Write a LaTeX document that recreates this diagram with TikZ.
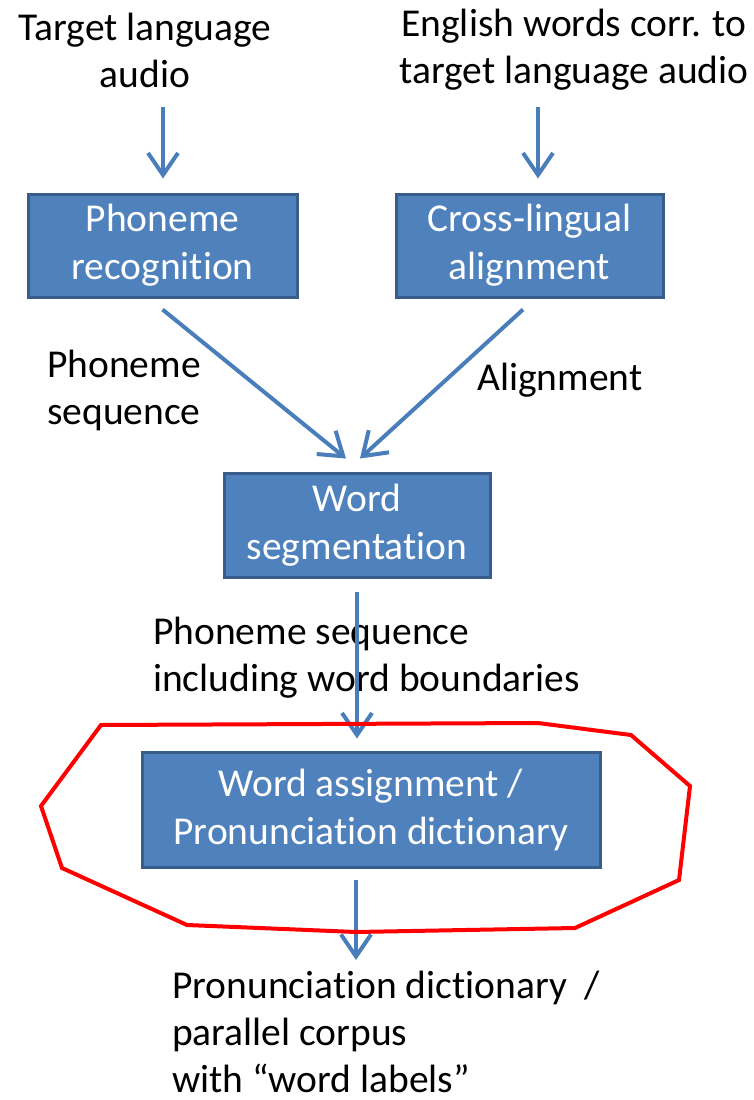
\documentclass[tikz,border=0pt]{standalone}
\usepackage{fontspec}
\setmainfont{Carlito}[Ligatures=NoCommon]
\usetikzlibrary{arrows.meta}
\definecolor{boxfill}{HTML}{4F81BD}
\definecolor{boxline}{HTML}{385D8A}
\definecolor{arrowblue}{HTML}{4A7EBB}
\tikzset{
  procbox/.style={draw=boxline, line width=3pt, fill=boxfill, text=white, align=center, inner sep=0pt, font=\fontsize{39.5}{48}\selectfont},
  plain/.style={inner sep=0pt, font=\fontsize{39.5}{47}\selectfont},
  arr/.style={draw=arrowblue, line width=4pt, -{Straight Barb[length=22pt,width=30pt,line width=4pt]}},
  hull/.style={draw=red, line width=4pt, line join=miter}
}
\begin{document}
\begin{tikzpicture}[x=1pt,y=-1pt]
\useasboundingbox (0,0) rectangle (754,1100);
% texts
\node[plain, align=center] (t1) at (145,50) {Target language\\audio};
\node[plain, align=center] (t2) at (574,50) {English words corr. to\\target language audio};
% boxes
\node[procbox, minimum width=269pt, minimum height=103pt] (b1) at (162.5,245.5) {Phoneme\\recognition};
\node[procbox, minimum width=267pt, minimum height=103pt] (b2) at (529.5,245.5) {Cross-lingual\\alignment};
\node[procbox, minimum width=266pt, minimum height=104pt] (b3) at (357,525) {Word\\segmentation};
\node[procbox, minimum width=458pt, minimum height=115pt] (b4) at (371,809.5) {Word assignment /\\Pronunciation dictionary};
% labels
\node[plain, align=left, anchor=west] (l1) at (47,390) {Phoneme\\sequence};
\node[plain, anchor=west] (l2) at (477,380) {Alignment};
\node[plain, align=left, anchor=west] (l3) at (153,658) {Phoneme sequence\\including word boundaries};
\node[plain, align=left, anchor=west] (l4) at (172,1032) {Pronunciation dictionary~~/\\parallel corpus\\with “word labels”};
% connectors
\coordinate (a1s) at (163,107);
\coordinate (a2s) at (538,107);
\draw[arr] (a1s) -- ([xshift=0.5pt,yshift=14pt]b1.north);
\draw[arr] (a2s) -- ([xshift=8.5pt,yshift=14pt]b2.north);
\draw[arr] ([yshift=-11pt]b1.south) -- ([xshift=-11pt,yshift=13pt]b3.north);
\draw[arr] ([xshift=-6.5pt,yshift=-11pt]b2.south) -- ([xshift=3pt,yshift=13pt]b3.north);
\draw[arr] ([yshift=-13pt]b3.south) -- ([xshift=-14pt,yshift=12pt]b4.north);
\coordinate (a6e) at (356,960);
\draw[arr] ([xshift=-15pt,yshift=-11pt]b4.south) -- (a6e);
% red hull
\draw[hull] (101,725) -- (538,723) -- (631,735) -- (690,786) -- (679,880) -- (575,928) -- (356,932) -- (187,925) -- (62,868) -- (41,806) -- cycle;
\end{tikzpicture}
\end{document}
